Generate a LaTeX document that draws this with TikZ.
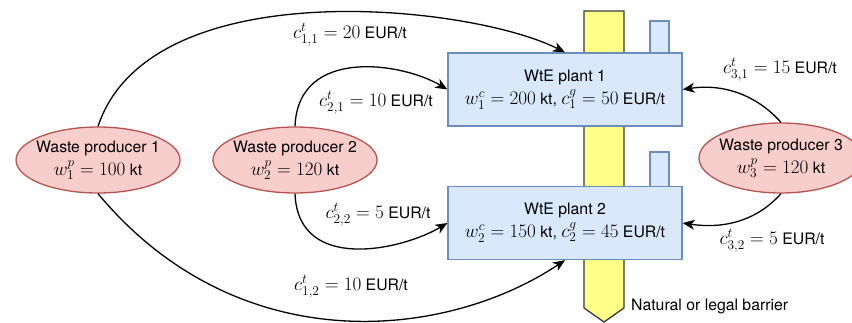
\RequirePackage{fix-cm}
\documentclass[tikz,border=0pt]{standalone}
\usepackage{fontspec}
\setmainfont{TeX Gyre Heros}
\DeclareMathSizes{15.8}{19.1}{13.4}{9.6}
\usetikzlibrary{arrows.meta,shapes.geometric}
\definecolor{prodfill}{HTML}{F8CECC}
\definecolor{prodline}{HTML}{B85450}
\definecolor{plantfill}{HTML}{DAE8FC}
\definecolor{plantline}{HTML}{6C8EBF}
\definecolor{barrierfill}{HTML}{FFFF88}
\definecolor{barrierline}{HTML}{36393D}
\tikzset{
  producer/.style={ellipse, draw=prodline, fill=prodfill, line width=1.3pt, minimum width=164pt, minimum height=66pt, inner xsep=-12pt, inner ysep=-6pt, align=center},
  plant/.style={rectangle, draw=plantline, fill=plantfill, line width=1.3pt, minimum width=234pt, minimum height=73pt, inner sep=0pt, align=center},
  chimney/.style={draw=plantline, fill=plantfill, line width=1.3pt},
  barrier/.style={draw=barrierline, fill=barrierfill, line width=1.3pt},
  flow/.style={line width=1.3pt, -{Stealth[length=12pt,width=10pt,inset=3.5pt]}},
  cost/.style={inner sep=0pt}
}

\begin{document}
\begin{tikzpicture}[x=1pt,y=-1pt,font=\fontsize{15.8}{23}\selectfont]
\useasboundingbox (0,0) rectangle (852,322);

\draw[barrier] (584,11) -- (624,11) -- (624,308) -- (604,322) -- (584,308) -- cycle;
\foreach \y/\h in {21/53, 152/187} {
	\draw[chimney] (650,\y) rectangle (669,\h);
}

\node[plant] (plant1) at (565,89.5) {WtE plant 1\\ $w^c_1 = 200$ kt, $c^g_1 = 50$ EUR/t};
\node[plant] (plant2) at (565,223) {WtE plant 2\\ $w^c_2 = 150$ kt, $c^g_2 = 45$ EUR/t};

\node[producer] (wp1) at (98,160) {Waste producer 1\\ $w^p_1 = 100$ kt};
\node[producer] (wp2) at (295,160) {Waste producer 2\\ $w^p_2 = 120$ kt};
\node[producer, minimum height=70pt] (wp3) at (781,158) {Waste producer 3\\ $w^p_3 = 120$ kt};

\draw[flow] (wp1.north) .. controls +(52,-156) and +(-95,-48) .. (plant1.north);
\draw[flow] (wp1.south) .. controls +(140,168) and +(-120,80) .. (plant2.south);
\draw[flow] (wp2.north) .. controls +(3,-80) and +(-45,-27) .. (plant1.west);
\draw[flow] (wp2.south) .. controls +(3,80) and +(-45,27) .. (plant2.west);
\draw[flow] (wp3.north) .. controls +(-25,-28) and +(40,-6) .. (plant1.east);
\draw[flow] (wp3.south) .. controls +(-25,28) and +(40,6) .. (plant2.east);

\node[cost] (c11) at (350,35) {$c^t_{1,1} = 20$ EUR/t};
\node[cost] (c21) at (376,103) {$c^t_{2,1} = 10$ EUR/t};
\node[cost] (c22) at (378,215) {$c^t_{2,2} = 5$ EUR/t};
\node[cost] (c12) at (351,287) {$c^t_{1,2} = 10$ EUR/t};
\node[cost] (c31) at (780,70) {$c^t_{3,1} = 15$ EUR/t};
\node[cost] (c32) at (772,241) {$c^t_{3,2} = 5$ EUR/t};
\node[cost, anchor=west] (barrierlabel) at (631,306) {Natural or legal barrier};
\end{tikzpicture}
\end{document}
